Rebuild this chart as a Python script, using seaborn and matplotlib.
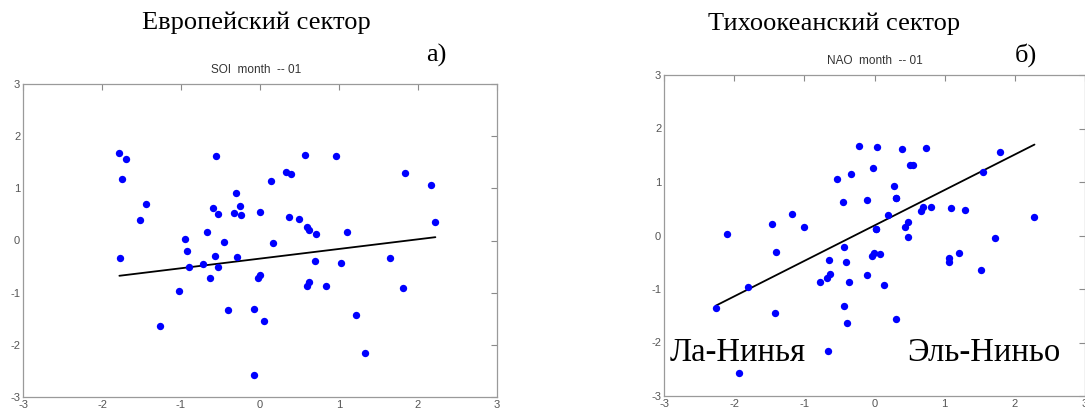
# Диаграммы рассеяния: европейский и тихоокеанский секторы, январь

import matplotlib
matplotlib.use("Agg")
import matplotlib.pyplot as plt
import numpy as np
import pandas as pd
import seaborn as sns


# европейский сектор (SOI month -- 01)
eu_x = [-1.78, -1.69, -1.75, -1.77, -1.44, -1.52, -0.555, -0.60, -0.53, -0.30,
        -0.255, -0.33, -0.24, 0.00, -0.67, -0.95, -0.45, -0.92, -0.90, -0.72,
        -0.57, -0.53, -0.29, -0.63, -0.005, -0.02, -1.03, -1.27, -0.40, -0.08,
        0.05, -0.08, 0.14, 0.16, 0.33, 0.39, 0.57, 0.96, 0.37, 0.49,
        0.59, 0.62, 0.71, 1.10, 0.70, 1.02, 0.62, 0.59, 0.84, 1.21,
        1.33, 1.84, 2.16, 2.22, 1.65, 1.81]
eu_y = [1.67, 1.57, 1.17, -0.34, 0.70, 0.39, 1.62, 0.62, 0.51, 0.92,
        0.67, 0.53, 0.48, 0.54, 0.16, 0.03, -0.03, -0.20, -0.50, -0.45,
        -0.30, -0.50, -0.32, -0.72, -0.66, -0.72, -0.96, -1.63, -1.34, -1.31,
        -1.55, -2.57, 1.15, -0.045, 1.31, 1.27, 1.64, 1.62, 0.45, 0.41,
        0.26, 0.21, 0.13, 0.16, -0.39, -0.43, -0.80, -0.87, -0.87, -1.43,
        -2.15, 1.30, 1.06, 0.36, -0.34, -0.92]
# линия регрессии: наклон, свободный член
eu_fit = [0.185, -0.347]

# тихоокеанский сектор (NAO month -- 01)
pac_x = [-0.22, 0.035, 0.39, 0.73, 1.79, -0.015, 0.51, 0.55, -0.34, -0.54,
         1.55, 0.28, 0.30, 0.31, -0.455, -0.11, -1.18, 0.19, 0.69, 0.66,
         0.80, 1.09, 1.29, 2.28, -1.46, -1.01, 0.48, 0.44, 0.015, 0.02,
         -2.10, 0.48, 1.72, -0.44, -1.41, -0.005, -0.035, 0.074, 1.20, 1.06,
         1.06, -0.65, -0.405, 1.52, -0.64, -0.67, -0.11, -0.77, -0.36, 0.14,
         -1.80, -2.26, -0.435, -1.42, -0.39, 0.31, -0.66, -1.93]
pac_y = [1.67, 1.645, 1.62, 1.63, 1.57, 1.27, 1.31, 1.31, 1.15, 1.06,
         1.18, 0.93, 0.70, 0.70, 0.63, 0.67, 0.40, 0.39, 0.54, 0.45,
         0.53, 0.51, 0.48, 0.355, 0.21, 0.16, 0.26, 0.16, 0.13, 0.12,
         0.03, -0.03, -0.04, -0.21, -0.30, -0.33, -0.39, -0.35, -0.32, -0.42,
         -0.50, -0.45, -0.50, -0.65, -0.72, -0.80, -0.73, -0.87, -0.87, -0.92,
         -0.97, -1.35, -1.31, -1.44, -1.64, -1.56, -2.16, -2.57]
pac_fit = [0.663, 0.188]

ticks = [-3, -2, -1, 0, 1, 2, 3]

W, H = 1085, 409
SANS = ["Liberation Sans", "DejaVu Sans"]
SERIF = ["Liberation Serif", "DejaVu Serif"]


def style_axes(ax):
    ax.set_xlim(-3, 3)
    ax.set_ylim(-3, 3)
    ax.set_xticks(ticks)
    ax.set_yticks(ticks)
    ax.set_xlabel("")
    ax.set_ylabel("")
    for sp in ax.spines.values():
        sp.set_visible(True)
        sp.set_color("#9a9a9a")
        sp.set_linewidth(0.9)
    ax.tick_params(direction="in", length=4, width=0.8, color="#8a8a8a",
                   top=True, right=True, labelsize=8, labelcolor="#555555", pad=2)
    ax.grid(False)


def panel(ax, x, y, fit):
    df = pd.DataFrame({"x": x, "y": y})
    sns.scatterplot(data=df, x="x", y="y", color="#0000ff", s=28,
                    linewidth=0, ax=ax, zorder=3)
    xs = np.array([df["x"].min(), df["x"].max()])
    line = pd.DataFrame({"x": xs, "y": fit[0] * xs + fit[1]})
    sns.lineplot(data=line, x="x", y="y", color="black", linewidth=1.3, ax=ax)
    style_axes(ax)


sns.set_theme(style="white")
plt.rcParams["font.family"] = SANS
plt.rcParams["axes.unicode_minus"] = False

fig = plt.figure(figsize=(W / 100, H / 100), dpi=100)
ax1 = fig.add_axes([23 / W, (H - 397) / H, 474 / W, 313 / H])
ax2 = fig.add_axes([664 / W, (H - 396) / H, 421 / W, 321 / H])

panel(ax1, eu_x, eu_y, eu_fit)
panel(ax2, pac_x, pac_y, pac_fit)

big = dict(family=SERIF, color="black", ha="center", va="center")
small = dict(fontsize=8.5, color="#333333", ha="center", va="center")

fig.text(256 / W, 1 - 23 / H, "Европейский сектор", fontsize=19, **big)
fig.text(436 / W, 1 - 55 / H, "а)", fontsize=19, **big)
fig.text(256 / W, 1 - 70 / H, "SOI  month  -- 01", **small)

fig.text(834 / W, 1 - 24 / H, "Тихоокеанский сектор", fontsize=19, **big)
fig.text(1026 / W, 1 - 55 / H, "б)", fontsize=19, **big)
fig.text(875 / W, 1 - 61 / H, "NAO  month  -- 01", **small)

fig.text(738 / W, 1 - 353 / H, "Ла-Нинья", fontsize=23.5, **big)
fig.text(984 / W, 1 - 353 / H, "Эль-Ниньо", fontsize=23.5, **big)

fig.savefig("out.png", dpi=100)
